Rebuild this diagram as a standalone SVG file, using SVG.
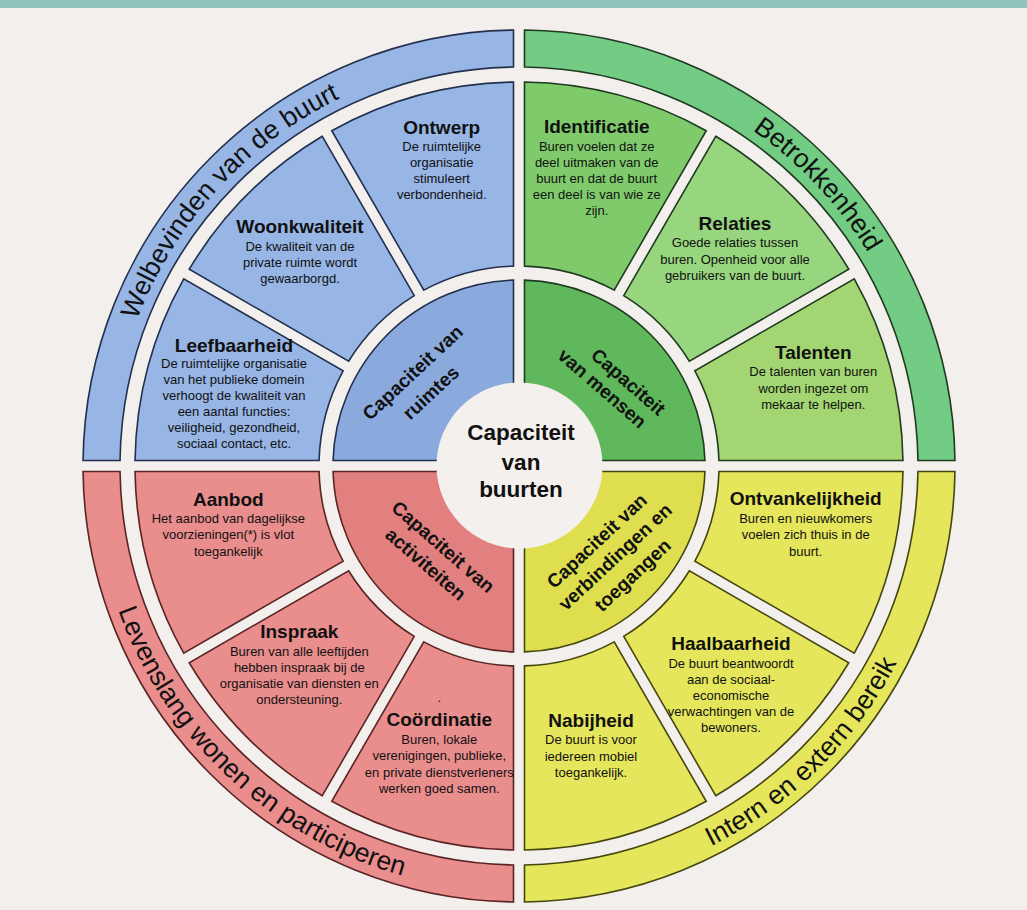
<svg xmlns="http://www.w3.org/2000/svg" width="1027" height="910" viewBox="0 0 1027 910">
<style>
.t{font-family:"Liberation Sans",Arial,sans-serif;fill:#111;text-anchor:middle}
.h{font-size:19px;font-weight:bold}
.b{font-size:13px}
.r{font-size:19px;font-weight:bold}
.band{font-size:26.5px;fill:#111;font-family:"Liberation Sans",Arial,sans-serif}
.c{font-size:22.5px;font-weight:bold}
.bl{fill:#97b5e5;stroke:#22304d;stroke-width:1.6}
.bli{fill:#8aaade;stroke:#22304d;stroke-width:1.6}
.gr{fill:#7fcb6c;stroke:#1f3a1f;stroke-width:1.6}
.grb{fill:#72cc84;stroke:#1f3a1f;stroke-width:1.6}
.gri{fill:#5fb85c;stroke:#1f3a1f;stroke-width:1.6}
.rd{fill:#e98d8d;stroke:#5a2424;stroke-width:1.6}
.rdi{fill:#e2807f;stroke:#5a2424;stroke-width:1.6}
.ye{fill:#e6e65c;stroke:#45450f;stroke-width:1.6}
.yei{fill:#dede4e;stroke:#45450f;stroke-width:1.6}
</style>
<defs>
<path id="arcTL" d="M110,466 A409,409 0 0 1 519,57"/>
<path id="arcTR" d="M519,57 A409,409 0 0 1 928,466"/>
<path id="arcBR" d="M519,892 A426,426 0 0 0 945,466"/>
<path id="arcBL" d="M93,466 A426,426 0 0 0 519,892"/>
</defs>
<rect x="0" y="0" width="1027" height="910" fill="#f2efec"/>
<rect x="0" y="0" width="1027" height="8" fill="#8fc3b9"/>

<!-- Outer bands -->
<g id="band-welbevinden">
<path class="bl" d="M83.04,460.5 A436,436 0 0 1 513.5,30.04 L513.5,67.04 A399,399 0 0 0 120.04,460.5 Z"/>
<text class="band"><textPath href="#arcTL" startOffset="47.2%" text-anchor="middle">Welbevinden van de buurt</textPath></text>
</g>
<g id="band-betrokkenheid">
<path class="grb" d="M524.5,30.04 A436,436 0 0 1 954.96,460.5 L917.96,460.5 A399,399 0 0 0 524.5,67.04 Z"/>
<text class="band"><textPath href="#arcTR" startOffset="51.9%" text-anchor="middle">Betrokkenheid</textPath></text>
</g>
<g id="band-bereik">
<path class="ye" d="M954.96,471.5 A436,436 0 0 1 524.5,901.96 L524.5,864.96 A399,399 0 0 0 917.96,471.5 Z"/>
<text class="band"><textPath href="#arcBR" startOffset="49.6%" text-anchor="middle">Intern en extern bereik</textPath></text>
</g>
<g id="band-levenslang">
<path class="rd" d="M513.5,901.96 A436,436 0 0 1 83.04,471.5 L120.04,471.5 A399,399 0 0 0 513.5,864.96 Z"/>
<text class="band"><textPath href="#arcBL" startOffset="52.2%" text-anchor="middle">Levenslang wonen en participeren</textPath></text>
</g>

<!-- Blue sectors -->
<g id="leefbaarheid">
<path class="bl" d="M135.04,460.5 A384,384 0 0 1 183.73,278.78 L343.11,370.8 A200,200 0 0 0 319.08,460.5 Z"/>
<text class="t h" x="234" y="351.7">Leefbaarheid</text>
<text class="t b" y="368.3"><tspan x="234">De ruimtelijke organisatie</tspan><tspan x="234" dy="16">van het publieke domein</tspan><tspan x="234" dy="16">verhoogt de kwaliteit van</tspan><tspan x="234" dy="16">een aantal functies:</tspan><tspan x="234" dy="16">veiligheid, gezondheid,</tspan><tspan x="234" dy="16">sociaal contact, etc.</tspan></text>
</g>
<g id="woonkwaliteit">
<path class="bl" d="M189.23,269.26 A384,384 0 0 1 322.26,136.23 L414.28,295.61 A200,200 0 0 0 348.61,361.28 Z"/>
<text class="t h" x="300" y="233.3">Woonkwaliteit</text>
<text class="t b" y="250.7"><tspan x="300">De kwaliteit van de</tspan><tspan x="300" dy="16">private ruimte wordt</tspan><tspan x="300" dy="16">gewaarborgd.</tspan></text>
</g>
<g id="ontwerp">
<path class="bl" d="M331.78,130.73 A384,384 0 0 1 513.5,82.04 L513.5,266.08 A200,200 0 0 0 423.8,290.11 Z"/>
<text class="t h" x="441.7" y="134">Ontwerp</text>
<text class="t b" y="150.7"><tspan x="441.7">De ruimtelijke</tspan><tspan x="441.7" dy="16">organisatie</tspan><tspan x="441.7" dy="16">stimuleert</tspan><tspan x="441.7" dy="16">verbondenheid.</tspan></text>
</g>

<!-- Green sectors -->
<g id="identificatie">
<path class="gr" d="M524.5,82.04 A384,384 0 0 1 706.22,130.73 L614.2,290.11 A200,200 0 0 0 524.5,266.08 Z"/>
<text class="t h" x="596.7" y="133.3">Identificatie</text>
<text class="t b" y="150.7"><tspan x="596.7">Buren voelen dat ze</tspan><tspan x="596.7" dy="16">deel uitmaken van de</tspan><tspan x="596.7" dy="16">buurt en dat de buurt</tspan><tspan x="596.7" dy="16">een deel is van wie ze</tspan><tspan x="596.7" dy="16">zijn.</tspan></text>
</g>
<g id="relaties">
<path class="gr" style="fill:#97d67f" d="M715.74,136.23 A384,384 0 0 1 848.77,269.26 L689.39,361.28 A200,200 0 0 0 623.73,295.61 Z"/>
<text class="t h" x="735" y="230">Relaties</text>
<text class="t b" y="247.3"><tspan x="735">Goede relaties tussen</tspan><tspan x="735" dy="16.3">buren. Openheid voor alle</tspan><tspan x="735" dy="16.3">gebruikers van de buurt.</tspan></text>
</g>
<g id="talenten">
<path class="gr" style="fill:#a3d672" d="M854.27,278.78 A384,384 0 0 1 902.96,460.5 L718.92,460.5 A200,200 0 0 0 694.89,370.8 Z"/>
<text class="t h" x="813.3" y="359.3">Talenten</text>
<text class="t b" y="376"><tspan x="813.3">De talenten van buren</tspan><tspan x="813.3" dy="16.6">worden ingezet om</tspan><tspan x="813.3" dy="16.6">mekaar te helpen.</tspan></text>
</g>

<!-- Yellow sectors -->
<g id="ontvankelijkheid">
<path class="ye" d="M902.96,471.5 A384,384 0 0 1 854.27,653.22 L694.89,561.2 A200,200 0 0 0 718.92,471.5 Z"/>
<text class="t h" x="805.7" y="505">Ontvankelijkheid</text>
<text class="t b" y="522.7"><tspan x="805.7">Buren en nieuwkomers</tspan><tspan x="805.7" dy="16.6">voelen zich thuis in de</tspan><tspan x="805.7" dy="16.6">buurt.</tspan></text>
</g>
<g id="haalbaarheid">
<path class="ye" d="M848.77,662.74 A384,384 0 0 1 715.74,795.77 L623.73,636.39 A200,200 0 0 0 689.39,570.73 Z"/>
<text class="t h" x="731" y="650">Haalbaarheid</text>
<text class="t b" y="668.3"><tspan x="731">De buurt beantwoordt</tspan><tspan x="731" dy="16">aan de sociaal-</tspan><tspan x="731" dy="16">economische</tspan><tspan x="731" dy="16">verwachtingen van de</tspan><tspan x="731" dy="15.5">bewoners.</tspan></text>
</g>
<g id="nabijheid">
<path class="ye" d="M706.22,801.27 A384,384 0 0 1 524.5,849.96 L524.5,665.92 A200,200 0 0 0 614.2,641.89 Z"/>
<text class="t h" x="591" y="726.7">Nabijheid</text>
<text class="t b" y="744"><tspan x="591">De buurt is voor</tspan><tspan x="591" dy="16.6">iedereen mobiel</tspan><tspan x="591" dy="16.6">toegankelijk.</tspan></text>
</g>

<!-- Red sectors -->
<g id="coordinatie">
<path class="rd" d="M513.5,849.96 A384,384 0 0 1 331.78,801.27 L423.8,641.89 A200,200 0 0 0 513.5,665.92 Z"/>
<text class="t b" x="439.3" y="702">.</text>
<text class="t h" x="439.3" y="726">Coördinatie</text>
<text class="t b" y="744"><tspan x="439.3">Buren, lokale</tspan><tspan x="439.3" dy="16.4">verenigingen, publieke,</tspan><tspan x="439.3" dy="16.4">en private dienstverleners</tspan><tspan x="439.3" dy="16.4">werken goed samen.</tspan></text>
</g>
<g id="inspraak">
<path class="rd" d="M322.26,795.77 A384,384 0 0 1 189.23,662.74 L348.61,570.73 A200,200 0 0 0 414.28,636.39 Z"/>
<text class="t h" x="299.3" y="638.3">Inspraak</text>
<text class="t b" y="656"><tspan x="299.3">Buren van alle leeftijden</tspan><tspan x="299.3" dy="16">hebben inspraak bij de</tspan><tspan x="299.3" dy="16">organisatie van diensten en</tspan><tspan x="299.3" dy="16">ondersteuning.</tspan></text>
</g>
<g id="aanbod">
<path class="rd" d="M183.73,653.22 A384,384 0 0 1 135.04,471.5 L319.08,471.5 A200,200 0 0 0 343.11,561.2 Z"/>
<text class="t h" x="228.3" y="505.7">Aanbod</text>
<text class="t b" y="522.7"><tspan x="228.3">Het aanbod van dagelijkse</tspan><tspan x="228.3" dy="16.6">voorzieningen(*) is vlot</tspan><tspan x="228.3" dy="16.6">toegankelijk</tspan></text>
</g>

<!-- Inner capacity rings -->
<g id="cap-ruimtes">
<path class="bli" d="M333.08,460.5 A186,186 0 0 1 513.5,280.08 L513.5,396.22 A70,70 0 0 0 449.22,460.5 Z"/>
<text class="t r" transform="translate(412.5,372.5) rotate(-43)" dy="0.35em">Capaciteit van</text>
<text class="t r" transform="translate(430.8,392.5) rotate(-43)" dy="0.35em">ruimtes</text>
</g>
<g id="cap-mensen">
<path class="gri" d="M524.5,280.08 A186,186 0 0 1 704.92,460.5 L588.78,460.5 A70,70 0 0 0 524.5,396.22 Z"/>
<text class="t r" transform="translate(628.3,381.7) rotate(41)" dy="0.35em">Capaciteit</text>
<text class="t r" transform="translate(602.3,388.3) rotate(41)" dy="0.35em">van mensen</text>
</g>
<g id="cap-verbindingen">
<path class="yei" d="M704.92,471.5 A186,186 0 0 1 524.5,651.92 L524.5,535.78 A70,70 0 0 0 588.78,471.5 Z"/>
<text class="t r" transform="translate(596.7,540.8) rotate(-43)" dy="0.35em">Capaciteit van</text>
<text class="t r" transform="translate(615,556.7) rotate(-43)" dy="0.35em">verbindingen en</text>
<text class="t r" transform="translate(632.5,575) rotate(-43)" dy="0.35em">toegangen</text>
</g>
<g id="cap-activiteiten">
<path class="rdi" d="M513.5,651.92 A186,186 0 0 1 333.08,471.5 L449.22,471.5 A70,70 0 0 0 513.5,535.78 Z"/>
<text class="t r" transform="translate(443.3,546.7) rotate(41)" dy="0.35em">Capaciteit van</text>
<text class="t r" transform="translate(425.8,564) rotate(41)" dy="0.35em">activiteiten</text>
</g>

<!-- Center -->
<g id="center">
<circle cx="519.5" cy="465.5" r="83" fill="#f3f0ed"/>
<text class="t c" x="521" y="440">Capaciteit</text>
<text class="t c" x="521" y="469.5">van</text>
<text class="t c" x="521" y="497">buurten</text>
</g>
</svg>
